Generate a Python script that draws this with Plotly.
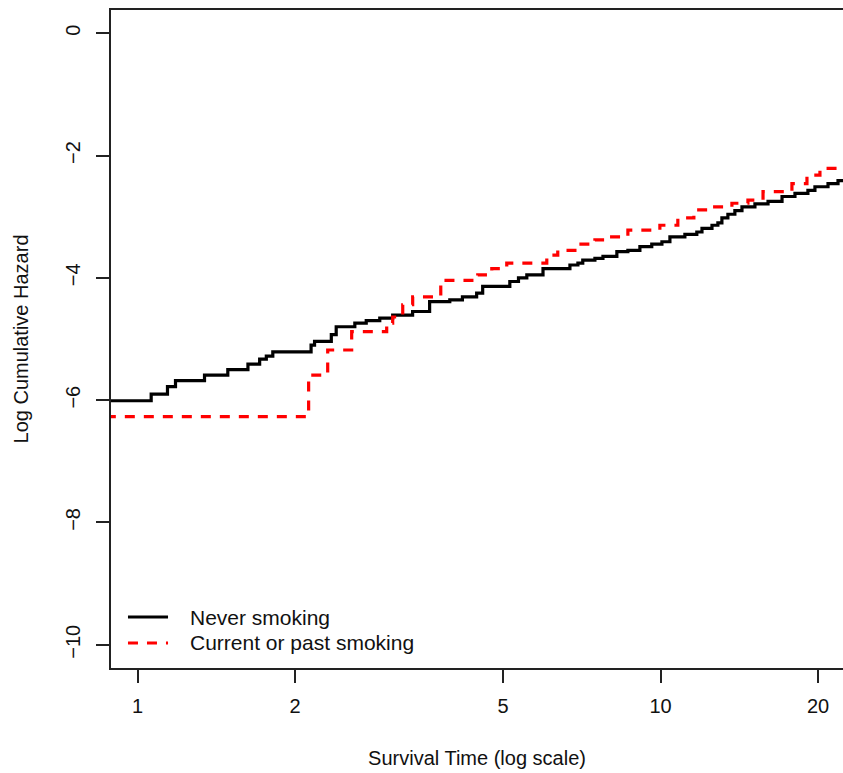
import plotly.graph_objects as go

# ---- data ----
series_names = ["Never smoking", "Current or past smoking"]

never_time = [0.80, 1.062, 1.141, 1.182, 1.343, 1.488, 1.626, 1.712, 1.763, 1.814,
              2.147, 2.180, 2.347, 2.398, 2.603, 2.737, 2.905, 3.075, 3.357, 3.618,
              3.954, 4.18, 4.45, 4.57, 5.15, 5.35, 5.55, 5.96, 6.71, 6.95,
              7.10, 7.49, 7.76, 8.25, 8.66, 9.13, 9.62, 10.06, 10.42, 11.13,
              11.73, 12.00, 12.54, 12.87, 13.10, 13.45, 13.87, 14.31, 15.15, 16.05,
              17.07, 18.07, 19.13, 19.73, 20.90, 21.84, 25.0]
never_loghaz = [-6.01, -5.90, -5.78, -5.68, -5.59, -5.50, -5.41, -5.33, -5.28, -5.21,
                -5.10, -5.04, -4.93, -4.80, -4.74, -4.70, -4.66, -4.61, -4.55, -4.39,
                -4.36, -4.31, -4.25, -4.14, -4.06, -4.00, -3.95, -3.85, -3.79, -3.76,
                -3.71, -3.68, -3.65, -3.57, -3.55, -3.49, -3.45, -3.41, -3.33, -3.29,
                -3.25, -3.19, -3.14, -3.10, -3.02, -2.96, -2.90, -2.84, -2.79, -2.75,
                -2.67, -2.62, -2.57, -2.51, -2.46, -2.41, -2.41]

smoke_time = [0.80, 2.124, 2.310, 2.567, 2.995, 3.075, 3.214, 3.358, 3.800, 4.472,
              4.757, 5.081, 6.06, 6.36, 6.92, 7.49, 7.93, 8.66, 9.97, 10.79,
              11.58, 12.54, 13.69, 14.69, 15.70, 17.83, 19.05, 20.17, 25.0]
smoke_loghaz = [-6.27, -5.59, -5.18, -4.88, -4.74, -4.64, -4.44, -4.31, -4.04, -3.95,
                -3.85, -3.76, -3.63, -3.55, -3.45, -3.38, -3.33, -3.22, -3.14, -3.02,
                -2.89, -2.84, -2.78, -2.73, -2.59, -2.46, -2.32, -2.21, -2.21]

x_tickvals = [1, 2, 5, 10, 20]
x_ticktext = ["1", "2", "5", "10", "20"]
y_tickvals = [0, -2, -4, -6, -8, -10]

x_title = "Survival Time (log scale)"
y_title = "Log Cumulative Hazard"

FONT = "Liberation Sans, Arial, Helvetica, sans-serif"
BLACK = "#000000"
RED = "#ff0000"
DASH = "10px,9px"
TXT = "#111111"

fig = go.Figure()
fig.add_trace(go.Scatter(x=never_time, y=never_loghaz, mode="lines", name=series_names[0],
                         line=dict(color=BLACK, width=3.2, shape="hv"), showlegend=False))
fig.add_trace(go.Scatter(x=smoke_time, y=smoke_loghaz, mode="lines", name=series_names[1],
                         line=dict(color=RED, width=3.2, shape="hv", dash=DASH), showlegend=False))

# legend drawn inside the plot (R style, no box)
leg_x0, leg_x1, leg_tx = 0.0232, 0.0779, 0.1052
leg_rows = [0.0775, 0.038]
leg_styles = [dict(color=BLACK, width=3.2), dict(color=RED, width=3.2, dash=DASH)]
for name, yy, st in zip(series_names, leg_rows, leg_styles):
    fig.add_shape(type="line", xref="paper", yref="paper", x0=leg_x0, x1=leg_x1,
                  y0=yy, y1=yy, line=st)
    fig.add_annotation(xref="paper", yref="paper", x=leg_tx, y=yy, text=name,
                       showarrow=False, xanchor="left", yanchor="middle",
                       font=dict(family=FONT, size=21, color=TXT))

fig.update_layout(
    width=843, height=773,
    margin=dict(l=111, r=0, t=10, b=105, autoexpand=False),
    paper_bgcolor="white", plot_bgcolor="white",
    font=dict(family=FONT, size=20, color=TXT),
    showlegend=False,
)
fig.update_xaxes(
    type="log", range=[-0.0507, 1.3488], automargin=False,
    tickvals=x_tickvals, ticktext=x_ticktext,
    ticks="outside", ticklen=13, tickwidth=1.5, tickcolor="#222222",
    showline=True, linecolor="#222222", linewidth=1.8, mirror=True,
    showgrid=False, zeroline=False,
    ticklabelstandoff=6,
    title=dict(text=x_title, standoff=35, font=dict(family=FONT, size=20)),
)
fig.update_yaxes(
    range=[-10.38, 0.38], automargin=False,
    tickvals=y_tickvals, tickangle=-90,
    ticks="outside", ticklen=13, tickwidth=1.5, tickcolor="#222222",
    showline=True, linecolor="#222222", linewidth=1.8, mirror=False,
    showgrid=False, zeroline=False,
    ticklabelstandoff=8,
    title=dict(text=y_title, standoff=28, font=dict(family=FONT, size=20)),
)

fig.write_html("out.html", config={"displayModeBar": False},
               post_script="document.body.style.margin='0px';document.body.style.padding='0px';")
